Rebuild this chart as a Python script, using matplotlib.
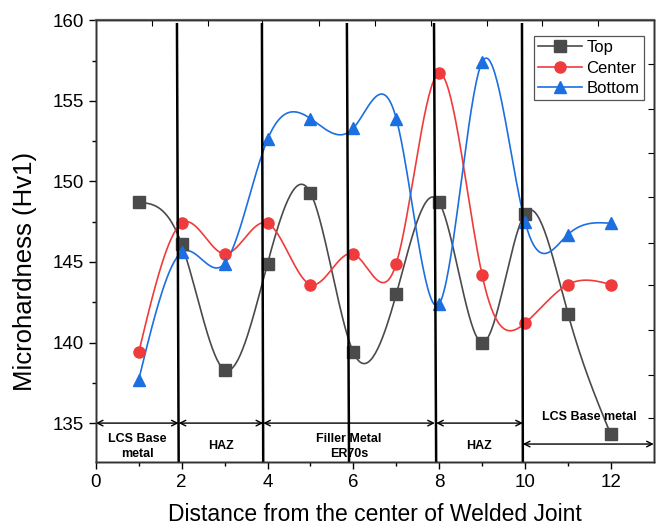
import numpy as np
import matplotlib
matplotlib.use("Agg")
import matplotlib.pyplot as plt

plt.rcParams['font.family'] = ['Liberation Sans', 'DejaVu Sans']

distance = [1, 2, 3, 4, 5, 6, 7, 8, 9, 10, 11, 12]
top = [148.7, 146.1, 138.3, 144.9, 149.3, 139.4, 143.0, 148.7, 140.0, 148.0, 141.8, 134.3]
center = [139.4, 147.4, 145.5, 147.4, 143.6, 145.5, 144.9, 156.7, 144.2, 141.2, 143.6, 143.6]
bottom = [137.7, 145.6, 144.9, 152.6, 153.9, 153.3, 153.9, 142.4, 157.4, 147.5, 146.7, 147.4]

# zone boundaries (slightly slanted hand-drawn lines: top x, bottom x)
boundaries = [(1.89, 1.93), (3.87, 3.90), (5.85, 5.90), (7.88, 7.93), (9.93, 9.95)]
zones = [(0, 1.93, "LCS Base\nmetal"), (1.93, 3.9, "HAZ"), (3.9, 7.9, "Filler Metal\nER70s"),
         (7.93, 9.95, "HAZ")]


def spline(x, y, n=400):
    # natural cubic spline, only used to draw the smooth connecting line
    x = np.asarray(x, float)
    y = np.asarray(y, float)
    k = len(x)
    h = np.diff(x)
    A = np.zeros((k, k))
    b = np.zeros(k)
    A[0, 0] = 1
    A[-1, -1] = 1
    for i in range(1, k - 1):
        A[i, i - 1] = h[i - 1]
        A[i, i] = 2 * (h[i - 1] + h[i])
        A[i, i + 1] = h[i]
        b[i] = 6 * ((y[i + 1] - y[i]) / h[i] - (y[i] - y[i - 1]) / h[i - 1])
    M = np.linalg.solve(A, b)
    xs = np.linspace(x[0], x[-1], n)
    idx = np.clip(np.searchsorted(x, xs) - 1, 0, k - 2)
    x0, x1 = x[idx], x[idx + 1]
    hh = x1 - x0
    ys = (M[idx] * (x1 - xs) ** 3 / (6 * hh) + M[idx + 1] * (xs - x0) ** 3 / (6 * hh)
          + (y[idx] / hh - M[idx] * hh / 6) * (x1 - xs)
          + (y[idx + 1] / hh - M[idx + 1] * hh / 6) * (xs - x0))
    return xs, ys


fig = plt.figure(figsize=(6.61, 5.32), dpi=100)
ax = fig.add_axes([0.145, 0.132, 0.844, 0.830])

series = [(top, '#4a4a4a', 's', 'Top'), (center, '#ef3b3b', 'o', 'Center'),
          (bottom, '#1c6fe0', '^', 'Bottom')]
for vals, col, mk, name in series:
    xs, ys = spline(distance, vals)
    ax.plot(xs, ys, color=col, lw=1.2, zorder=3)
    ax.plot(distance, vals, linestyle='none', marker=mk, color=col, ms=8, zorder=4)
    ax.plot([], [], color=col, marker=mk, ms=8, lw=1.2, label=name)

ymin, ymax = 132.6, 160
for xt, xb in boundaries:
    ax.plot([xt, xb], [159.75, ymin], color='black', lw=1.8, zorder=5)

for x0, x1, txt in zones:
    ax.annotate('', xy=(x0, 135), xytext=(x1, 135),
                arrowprops=dict(arrowstyle='<->', color='black', lw=1, shrinkA=0, shrinkB=0))
    ax.text((x0 + x1) / 2, 133.55, txt, ha='center', va='center', fontsize=9,
            fontweight='bold', linespacing=1.3)
ax.annotate('', xy=(9.95, 133.7), xytext=(13, 133.7),
            arrowprops=dict(arrowstyle='<->', color='black', lw=1, shrinkA=0, shrinkB=0))
ax.text(11.5, 135.4, "LCS Base metal", ha='center', va='center', fontsize=9, fontweight='bold')

ax.set_xlim(0, 13)
ax.set_ylim(ymin, ymax)
ax.set_xticks([0, 2, 4, 6, 8, 10, 12])
ax.set_xticks([1, 3, 5, 7, 9, 11], minor=True)
ax.set_yticks([135, 140, 145, 150, 155, 160])
ax.set_yticks([137.5, 142.5, 147.5, 152.5, 157.5], minor=True)
ax.tick_params(which='both', direction='out', labelsize=13.5, width=1)
ax.tick_params(which='major', length=5)
ax.tick_params(which='minor', length=3)

# mismatched top / right tick marks of the original figure
axt = ax.twiny()
axt.set_xlim(0, 13)
axt.set_xticks([1.31, 2.61, 3.87, 5.2, 6.5, 7.81, 9.11, 10.4, 11.7])
axt.tick_params(direction='in', length=4, labeltop=False)
axr = ax.twinx()
axr.set_ylim(ymin, ymax)
axr.set_yticks([157.3, 154.5, 151.75, 149.0, 146.2, 143.6, 140.8, 138.0, 135.3])
axr.tick_params(direction='in', length=4, labelright=False)
for a in (ax, axt, axr):
    for s in a.spines.values():
        s.set_linewidth(1)
        s.set_color('#333333')
axt.spines['top'].set_linewidth(1.6)
axt.spines['top'].set_color('#666666')

ax.set_xlabel('Distance from the center of Welded Joint', fontsize=16.5, labelpad=9)
ax.set_ylabel('Microhardness (Hv1)', fontsize=18.5)
ax.yaxis.set_label_coords(-0.105, 0.43)

leg = ax.legend(loc='upper right', bbox_to_anchor=(0.982, 0.964), borderaxespad=0,
                fontsize=12, fancybox=False, edgecolor='#555555', framealpha=1,
                handlelength=2.6, borderpad=0.25, labelspacing=0.32, handletextpad=0.3)
leg.get_frame().set_linewidth(0.9)
leg.set_zorder(10)

fig.savefig('out.png', dpi=100)
